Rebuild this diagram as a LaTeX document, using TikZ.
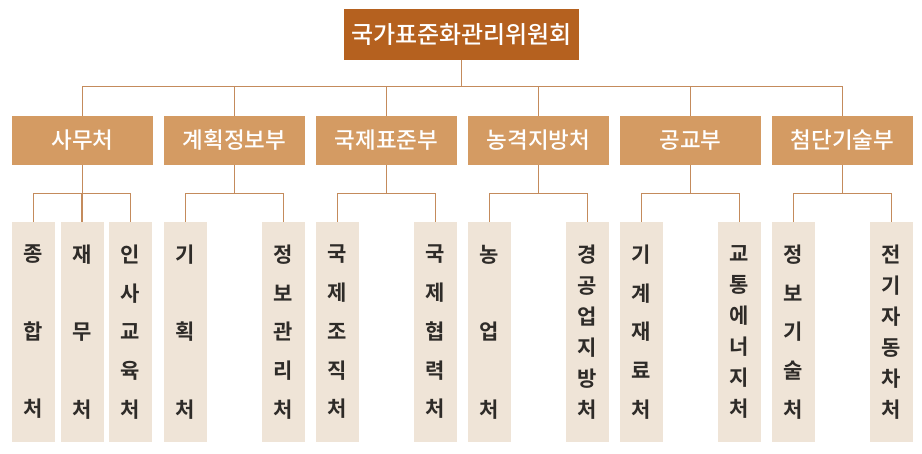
\documentclass[tikz,border=0pt]{standalone}
\usepackage{fontspec}
\newfontfamily\cjk{Noto Sans CJK KR}[BoldFont={Noto Sans CJK KR Bold}]
\newfontfamily\cjkm{Noto Sans CJK KR Medium}
\definecolor{topc}{HTML}{B5611F}
\definecolor{midc}{HTML}{D49B63}
\definecolor{lowc}{HTML}{EFE4D7}
\definecolor{linec}{HTML}{C48B5C}
\definecolor{txtc}{HTML}{2E2B28}
\begin{document}
\begin{tikzpicture}[x=1pt,y=-1pt,
  topbox/.style={fill=topc,draw=none,minimum width=235pt,minimum height=51pt,inner sep=0pt,text=white,font=\cjkm\fontsize{24}{26}\selectfont},
  midbox/.style={fill=midc,draw=none,minimum width=141pt,minimum height=49pt,inner sep=0pt,text=white,font=\cjkm\fontsize{22.5}{25}\selectfont},
  sub/.style={fill=lowc,draw=none,minimum width=43pt,minimum height=220pt,inner sep=0pt,align=center,text=txtc,font=\cjk\bfseries\fontsize{21}{#1}\selectfont},
  conn/.style={draw=linec,line width=1.4pt}]
\useasboundingbox (0,0) rectangle (922,453);
\node[topbox] (top) at (461.5,34.5) {국가표준화관리위원회};
\node[midbox] (m1) at (82.5,140.5) {사무처};
\node[midbox] (m2) at (234.5,140.5) {계획정보부};
\node[midbox] (m3) at (386.5,140.5) {국제표준부};
\node[midbox] (m4) at (538.5,140.5) {농격지방처};
\node[midbox] (m5) at (690.5,140.5) {공교부};
\node[midbox] (m6) at (842.5,140.5) {첨단기술부};
% children
\node[sub=77.5] (c11) at (33.5,332) {종\\합\\처};
\node[sub=77.5] (c12) at (82,332) {재\\무\\처};
\node[sub=38.75] (c13) at (130.5,332) {인\\사\\교\\육\\처};
\node[sub=77.5] (c21) at (185.5,332) {기\\획\\처};
\node[sub=38.75] (c22) at (283.5,332) {정\\보\\관\\리\\처};
\node[sub=38.75] (c31) at (337.5,332) {국\\제\\조\\직\\처};
\node[sub=38.75] (c32) at (435.5,332) {국\\제\\협\\력\\처};
\node[sub=77.5] (c41) at (489.5,332) {농\\업\\처};
\node[sub=31] (c42) at (587.5,332) {경\\공\\업\\지\\방\\처};
\node[sub=38.75] (c51) at (641.5,332) {기\\계\\재\\료\\처};
\node[sub=31] (c52) at (739.5,332) {교\\통\\에\\너\\지\\처};
\node[sub=38.75] (c61) at (793.5,332) {정\\보\\기\\술\\처};
\node[sub=31] (c62) at (891.5,332) {전\\기\\자\\동\\차\\처};
% connectors level 1 -> 2
\foreach \m in {m1,m2,m3,m4,m5,m6}
  \draw[conn] (top.south) -- ++(0,26.5) -| (\m.north);
% connectors level 2 -> 3
\foreach \p/\c in {m1/c11,m1/c12,m1/c13,m2/c21,m2/c22,m3/c31,m3/c32,m4/c41,m4/c42,m5/c51,m5/c52,m6/c61,m6/c62}
  \draw[conn] (\p.south) -- ++(0,28) -| (\c.north);
\end{tikzpicture}
\end{document}
